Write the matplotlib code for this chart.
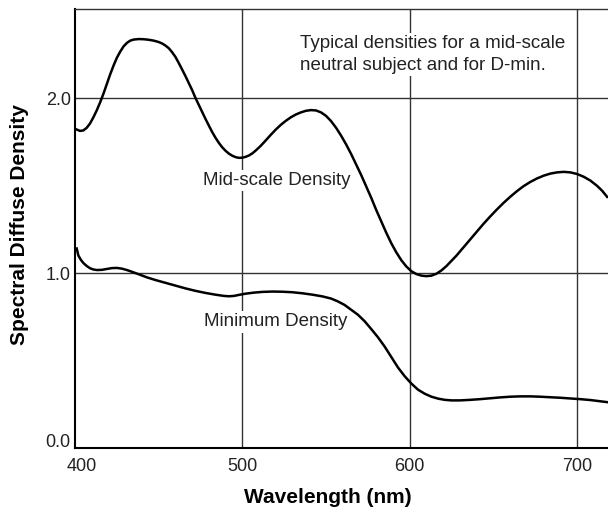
import numpy as np
import matplotlib.pyplot as plt
import matplotlib.transforms as mtransforms

plt.rcParams['font.family'] = ['Liberation Sans', 'DejaVu Sans']

# mid-scale density curve (wavelength nm, density)
mid_wl = [401, 403, 405, 407, 409, 411, 413, 415, 417, 419, 421, 423, 425, 427, 429,
          431, 433, 435, 438, 441, 444, 447, 450, 452, 454, 456, 458, 460, 462, 464,
          466, 468, 470, 472, 474, 476, 478, 480, 482, 484, 486, 488, 490, 492, 494,
          496, 498, 500, 502, 504, 506, 508, 511, 514, 517, 520, 523, 526, 529, 532,
          535, 538, 541, 544, 547, 550, 553, 556, 559, 562, 565, 568, 571, 574, 577,
          580, 583, 586, 589, 592, 595, 598, 601, 604, 607, 610, 613, 616, 619, 622,
          625, 628, 632, 636, 640, 644, 648, 652, 656, 660, 664, 668, 672, 676, 680,
          684, 688, 692, 696, 700, 704, 708, 712, 715, 718]
mid_d = [1.82, 1.812, 1.815, 1.83, 1.855, 1.89, 1.93, 1.975, 2.025, 2.08, 2.135, 2.185,
         2.23, 2.265, 2.295, 2.315, 2.328, 2.334, 2.337, 2.336, 2.333, 2.328, 2.32,
         2.312, 2.30, 2.285, 2.262, 2.235, 2.20, 2.163, 2.125, 2.085, 2.045, 2.00, 1.96,
         1.92, 1.88, 1.842, 1.805, 1.772, 1.743, 1.718, 1.698, 1.682, 1.67, 1.662,
         1.658, 1.659, 1.664, 1.672, 1.684, 1.70, 1.727, 1.758, 1.79, 1.82, 1.847,
         1.87, 1.89, 1.906, 1.918, 1.927, 1.931, 1.929, 1.918, 1.898, 1.868, 1.83,
         1.785, 1.735, 1.68, 1.62, 1.56, 1.495, 1.43, 1.36, 1.295, 1.23, 1.17, 1.118,
         1.073, 1.037, 1.01, 0.994, 0.985, 0.982, 0.985, 0.996, 1.015, 1.04, 1.07,
         1.10, 1.145, 1.19, 1.235, 1.28, 1.322, 1.362, 1.40, 1.435, 1.467, 1.496, 1.52,
         1.54, 1.556, 1.568, 1.575, 1.578, 1.575, 1.566, 1.55, 1.528, 1.498, 1.47, 1.435]

# minimum density curve
min_wl = [401, 402, 403.5, 405, 407, 409, 411, 413, 416, 419, 422, 425, 428, 431, 434,
          438, 443, 448, 454, 460, 466, 472, 478, 484, 489, 492, 495, 498, 502, 507,
          512, 518, 524, 530, 536, 542, 548, 553, 557, 561, 565, 569, 573, 577, 581,
          585, 589, 593, 597, 601, 605, 609, 613, 617, 621, 625, 630, 636, 642, 648,
          654, 660, 666, 672, 678, 684, 690, 696, 702, 708, 713, 718]
min_d = [1.14, 1.10, 1.075, 1.057, 1.04, 1.027, 1.02, 1.017, 1.018, 1.023, 1.028, 1.029,
         1.025, 1.017, 1.007, 0.993, 0.975, 0.96, 0.944, 0.928, 0.912, 0.898, 0.886,
         0.876, 0.869, 0.867, 0.869, 0.875, 0.882, 0.888, 0.892, 0.894, 0.893, 0.89,
         0.884, 0.876, 0.866, 0.854, 0.838, 0.818, 0.79, 0.762, 0.725, 0.68, 0.633,
         0.58, 0.52, 0.46, 0.41, 0.368, 0.333, 0.31, 0.293, 0.282, 0.275, 0.272, 0.272,
         0.275, 0.279, 0.284, 0.289, 0.293, 0.295, 0.295, 0.293, 0.29, 0.287, 0.283,
         0.279, 0.274, 0.268, 0.262]

xticks = [400, 500, 600, 700]
yticks = [0.0, 1.0, 2.0]

fig = plt.figure(figsize=(6.08, 5.07), dpi=100)
ax = fig.add_axes([0.1234, 0.1164, 0.8766, 0.8649])

for x in xticks[1:]:
    ax.axvline(x, color='#333333', lw=1.0, zorder=1)
for y in yticks[1:]:
    ax.axhline(y, color='#333333', lw=1.0, zorder=1)

ax.plot(mid_wl, mid_d, color='black', lw=1.8, solid_joinstyle='round', zorder=3)
ax.plot(min_wl, min_d, color='black', lw=1.8, solid_joinstyle='round', zorder=3)

box = dict(facecolor='white', edgecolor='none', pad=1.5)
ax.text(476.7, 1.53, 'Mid-scale Density', fontsize=13.5, va='center', ha='left',
        color='#222222', bbox=box, zorder=2)
ax.text(477.3, 0.72, 'Minimum Density', fontsize=13.5, va='center', ha='left',
        color='#222222', bbox=box, zorder=2)
ax.text(534.6, 2.249, 'Typical densities for a mid-scale\nneutral subject and for D-min.',
        fontsize=13.5, va='center', ha='left', color='#222222', linespacing=1.42,
        bbox=box, zorder=2)

ax.set_xlim(400.3, 718.5)
ax.set_ylim(0, 2.506)
ax.set_xticks(xticks)
ax.set_xticklabels([str(v) for v in xticks])
ax.set_yticks(yticks)
ax.set_yticklabels(['%.1f' % v for v in yticks])
ax.tick_params(length=0, labelsize=13, labelcolor='#222222')
ax.tick_params(axis='x', pad=7)
ax.tick_params(axis='y', pad=3)

# corner labels sit a little inside, as in the original
lab400 = ax.get_xticklabels()[0]
lab400.set_transform(lab400.get_transform() +
                     mtransforms.ScaledTranslation(7 / 100, 0, fig.dpi_scale_trans))
lab00 = ax.get_yticklabels()[0]
lab00.set_transform(lab00.get_transform() +
                    mtransforms.ScaledTranslation(0, 7 / 100, fig.dpi_scale_trans))

ax.spines['right'].set_visible(False)
ax.spines['left'].set_linewidth(1.5)
ax.spines['bottom'].set_linewidth(1.5)
ax.spines['top'].set_linewidth(1.0)
ax.spines['top'].set_color('#333333')

ax.set_xlabel('Wavelength (nm)', fontsize=15, fontweight='bold')
ax.xaxis.set_label_coords(0.475, -0.092)
ax.set_ylabel('Spectral Diffuse Density', fontsize=15, fontweight='bold')
ax.yaxis.set_label_coords(-0.086, 0.51)

fig.savefig('out.png', dpi=100)
